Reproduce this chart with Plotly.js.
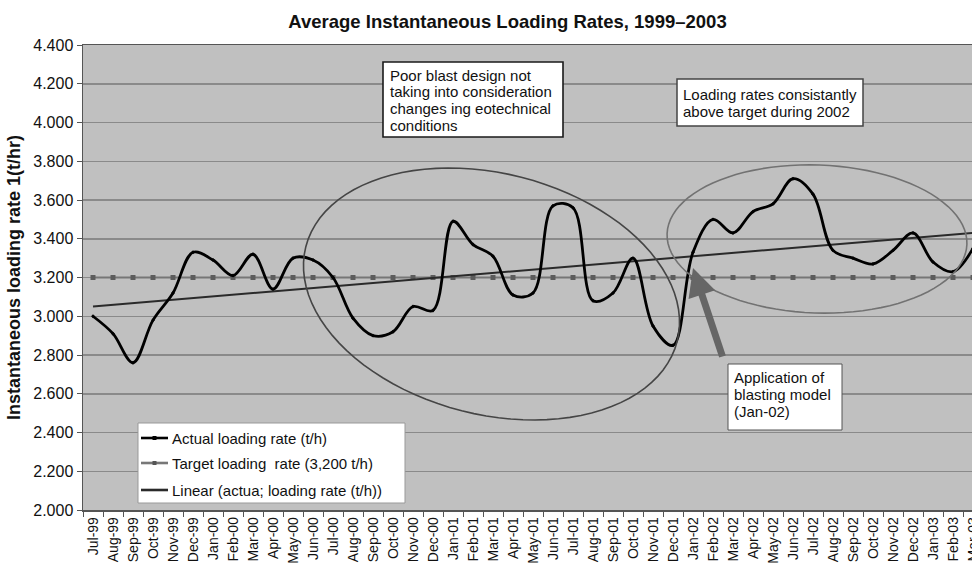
<!DOCTYPE html>
<html><head><meta charset="utf-8">
<script src="https://cdn.plot.ly/plotly-3.0.1.min.js"></script>
<style>html,body{margin:0;padding:0;overflow:hidden;background:#fff}#chart{width:983px;height:568px}</style>
</head><body><div id="chart"></div>
<script>
const months = ['Jul-99','Aug-99','Sep-99','Oct-99','Nov-99','Dec-99',
  'Jan-00','Feb-00','Mar-00','Apr-00','May-00','Jun-00','Jul-00','Aug-00','Sep-00','Oct-00','Nov-00','Dec-00',
  'Jan-01','Feb-01','Mar-01','Apr-01','May-01','Jun-01','Jul-01','Aug-01','Sep-01','Oct-01','Nov-01','Dec-01',
  'Jan-02','Feb-02','Mar-02','Apr-02','May-02','Jun-02','Jul-02','Aug-02','Sep-02','Oct-02','Nov-02','Dec-02',
  'Jan-03','Feb-03','Mar-03'];
const actualRate = [3.00,2.91,2.76,2.98,3.12,3.33,
  3.29,3.21,3.32,3.14,3.30,3.29,3.20,2.99,2.90,2.92,3.05,3.03,
  3.49,3.37,3.31,3.11,3.12,3.57,3.56,3.08,3.12,3.30,2.95,2.85,
  3.33,3.50,3.43,3.54,3.58,3.71,3.63,3.34,3.30,3.27,3.34,3.43,
  3.28,3.23,3.35];
const targetRate = [3.2,3.2,3.2,3.2,3.2,3.2,
  3.2,3.2,3.2,3.2,3.2,3.2,3.2,3.2,3.2,3.2,3.2,3.2,
  3.2,3.2,3.2,3.2,3.2,3.2,3.2,3.2,3.2,3.2,3.2,3.2,
  3.2,3.2,3.2,3.2,3.2,3.2,3.2,3.2,3.2,3.2,3.2,3.2,
  3.2,3.2,3.2];
const yTicks = [2.0,2.2,2.4,2.6,2.8,3.0,3.2,3.4,3.6,3.8,4.0,4.2,4.4];

const FONT = 'Liberation Sans, Arial, Helvetica, sans-serif';
const W = 983, H = 568, L = 83, R = 0, T = 45, B = 58;
const plotW = W - L - R, plotH = H - T - B;
const px = x => (x - L) / plotW;
const py = y => (H - B - y) / plotH;

// least-squares linear trend of the actual series (Excel "Linear" trendline)
const n = actualRate.length;
let sx = 0, sy = 0, sxy = 0, sxx = 0;
actualRate.forEach((v, i) => { sx += i; sy += v; sxy += i * v; sxx += i * i; });
const slope = (n * sxy - sx * sy) / (n * sxx - sx * sx);
const icpt = (sy - slope * sx) / n;
const trendX = [months[0], months[n - 1]];
const trendY = [icpt, icpt + slope * (n - 1)];

function ellipsePath(cx, cy, a, b, deg) {
  const th = deg * Math.PI / 180, pts = [];
  for (let k = 0; k <= 96; k++) {
    const t = 2 * Math.PI * k / 96;
    const x = cx + a * Math.cos(t) * Math.cos(th) - b * Math.sin(t) * Math.sin(th);
    const y = cy + a * Math.cos(t) * Math.sin(th) + b * Math.sin(t) * Math.cos(th);
    pts.push((k === 0 ? 'M' : 'L') + px(x).toFixed(5) + ',' + py(y).toFixed(5));
  }
  return pts.join(' ') + ' Z';
}
function rect(x0, y0, x1, y1, lc, lw) {
  return {type: 'rect', xref: 'paper', yref: 'paper', x0: px(x0), x1: px(x1), y0: py(y1), y1: py(y0),
    fillcolor: '#ffffff', line: {color: lc, width: lw}};
}
function hline(x0, x1, y, c, w) {
  return {type: 'line', xref: 'paper', yref: 'paper', x0: px(x0), x1: px(x1), y0: py(y), y1: py(y), line: {color: c, width: w}};
}
function txt(x, y, s) {
  return {xref: 'paper', yref: 'paper', x: px(x), y: py(y), xanchor: 'left', yanchor: 'middle',
    text: s, showarrow: false, borderpad: 0, font: {family: FONT, size: 15, color: '#111'}};
}

const traces = [
  {x: months, y: targetRate, type: 'scatter', mode: 'lines+markers', name: 'Target loading rate (3,200 t/h)',
   line: {color: '#767676', width: 2}, marker: {symbol: 'square', size: 5, color: '#5c5c5c'}},
  {x: trendX, y: trendY, type: 'scatter', mode: 'lines', name: 'Linear (actua; loading rate (t/h))',
   line: {color: '#2a2a2a', width: 2}},
  {x: months, y: actualRate, type: 'scatter', mode: 'lines+markers', name: 'Actual loading rate (t/h)',
   line: {color: '#000', width: 2.8, shape: 'spline', smoothing: 1}, marker: {symbol: 'diamond', size: 3, color: '#000'}}
];

const shapes = [
  {type: 'path', xref: 'paper', yref: 'paper', path: ellipsePath(491.5, 294, 191.6, 120.5, 14.3), line: {color: '#454545', width: 1.6}},
  {type: 'path', xref: 'paper', yref: 'paper', path: ellipsePath(817, 239, 150, 74, 2), line: {color: '#727272', width: 1.6}},
  rect(383, 62, 563, 137, '#1a1a1a', 1.6),
  rect(677, 79, 863, 126, '#444', 1.5),
  rect(728, 364, 842, 430, '#555', 1),
  rect(138, 423, 405, 503, '#999', 1),
  hline(141, 168, 438, '#000', 2.6),
  hline(141, 168, 463, '#777', 2.6),
  hline(141, 168, 490, '#2a2a2a', 2.6),
  {type: 'rect', xref: 'paper', yref: 'paper', x0: px(152.5), x1: px(156.5), y0: py(440), y1: py(436), fillcolor: '#000', line: {width: 0}},
  {type: 'rect', xref: 'paper', yref: 'paper', x0: px(152.5), x1: px(156.5), y0: py(465), y1: py(461), fillcolor: '#555', line: {width: 0}}
];

const annotations = [
  txt(389, 75, 'Poor blast design not'),
  txt(389, 91.8, 'taking into consideration'),
  txt(389, 108.6, 'changes ing eotechnical'),
  txt(389, 125.4, 'conditions'),
  txt(682, 94.5, 'Loading rates consistantly'),
  txt(682, 111.5, 'above target during 2002'),
  txt(733, 377.5, 'Application of'),
  txt(733, 394.5, 'blasting model'),
  txt(733, 411.5, '(Jan-02)'),
  txt(171, 438, 'Actual loading rate (t/h)'),
  txt(171, 463, 'Target loading\u00a0 rate (3,200 t/h)'),
  txt(171, 490, 'Linear (actua; loading rate (t/h))'),
  {xref: 'paper', yref: 'paper', x: px(693), y: py(268), text: '', showarrow: true,
   ax: 30, ay: 90, arrowcolor: '#666', arrowwidth: 7, arrowhead: 2, arrowsize: 0.8, standoff: 0}
];

const layout = {
  width: W, height: H,
  margin: {l: L, r: R, t: T, b: B, pad: 0},
  paper_bgcolor: '#ffffff', plot_bgcolor: '#c0c0c0',
  showlegend: false,
  font: {family: FONT, color: '#111'},
  title: {text: 'Average Instantaneous Loading Rates, 1999–2003', xref: 'paper', x: px(507.5), xanchor: 'center',
          yref: 'container', y: 1 - 22 / H, yanchor: 'middle',
          font: {family: FONT, size: 18.5, weight: 'bold', color: '#111'}},
  xaxis: {type: 'category', range: [-0.5, 44.5], tickson: 'boundaries', ticks: 'outside', ticklen: 5,
          tickcolor: '#555', showline: true, linecolor: '#555', linewidth: 1.5, mirror: true,
          showgrid: false, tickangle: -90, tickfont: {family: FONT, size: 14, color: '#111'}, fixedrange: true},
  yaxis: {range: [2.0, 4.4], tickvals: yTicks, tickformat: '.3f', ticks: 'outside', ticklen: 5, tickcolor: '#555',
          showline: true, linecolor: '#555', linewidth: 1.5, gridcolor: '#8a8a8a', gridwidth: 1.5, zeroline: false,
          tickfont: {family: FONT, size: 16, color: '#111'},
          title: {text: 'Instantaneous loading rate 1(t/hr)', font: {family: FONT, size: 18, weight: 'bold', color: '#111'}, standoff: 8},
          fixedrange: true},
  shapes: shapes,
  annotations: annotations
};

Plotly.newPlot('chart', traces, layout, {displayModeBar: false, staticPlot: true});
</script>
</body></html>
